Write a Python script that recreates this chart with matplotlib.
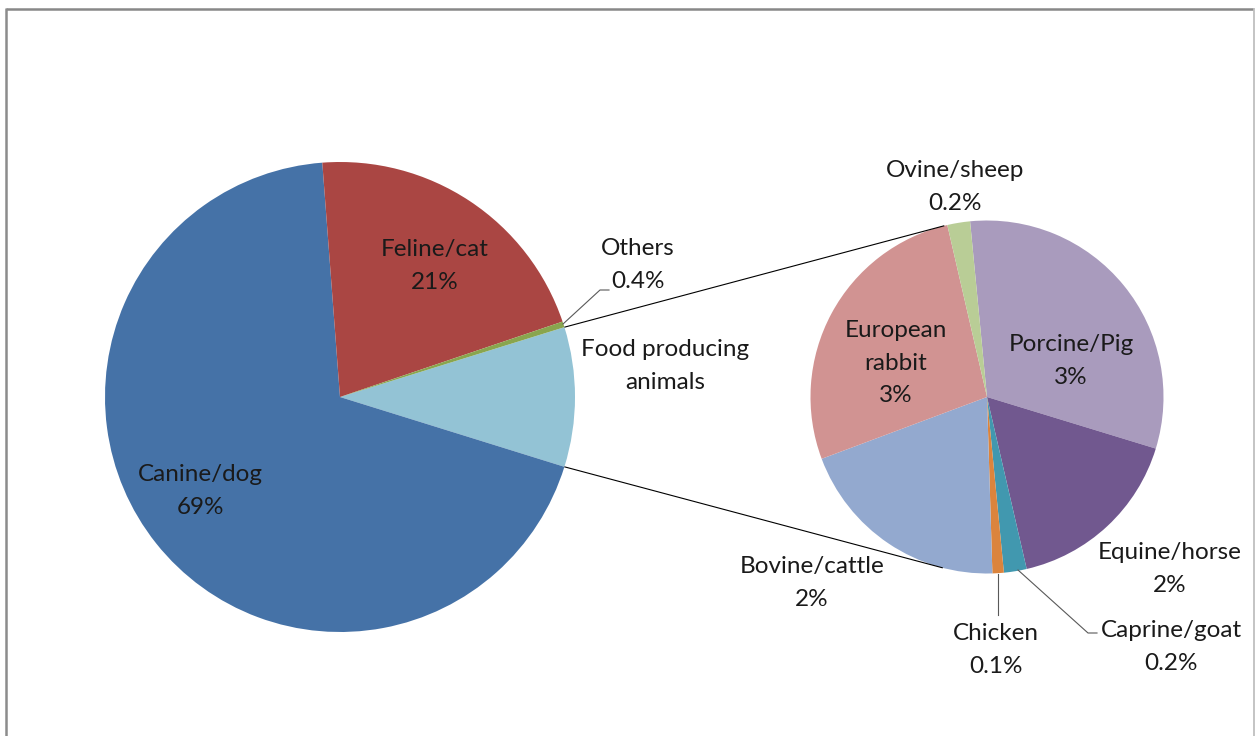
import numpy as np
import matplotlib
matplotlib.use("Agg")
import matplotlib.pyplot as plt

# Main pie: share of reports by animal group (%)
main_labels = ["Food producing\nanimals", "Canine/dog", "Feline/cat", "Others"]
main_values = [9.6, 69.0, 21.0, 0.4]
main_colors = ["#93C3D5", "#4572A7", "#AA4643", "#89A54E"]

# Breakdown of food producing animals (% of all reports)
sub_labels = ["Porcine/Pig", "Equine/horse", "Caprine/goat", "Chicken",
              "Bovine/cattle", "European\nrabbit", "Ovine/sheep"]
sub_values = [3.0, 1.6, 0.2, 0.1, 1.9, 2.6, 0.2]
sub_colors = ["#A99BBD", "#71588F", "#4198AF", "#DB843D",
              "#93A9CF", "#D19392", "#B9CD96"]

W, H = 1255, 736
fig = plt.figure(figsize=(W / 100, H / 100), dpi=100)
ax = fig.add_axes([0, 0, 1, 1])

FONT = "Lato"
FS = 17.5
TXT = "#1a1a1a"


def py(y):
    """Convert a top-down pixel row into the y-up data system."""
    return H - y


def pct(v):
    return f"{v:.0f}%" if v >= 1 else f"{v:.1f}%"


# ---- main pie ----
c1 = (340, py(397))
r1 = 235
food_span = main_values[0] / sum(main_values) * 360
ax.pie(main_values, colors=main_colors, center=c1, radius=r1,
       startangle=food_span / 2, counterclock=False,
       wedgeprops=dict(linewidth=0.6, edgecolor="none"))

# ---- secondary pie ----
c2 = (987, py(397))
r2 = 176.5
ax.pie(sub_values, colors=sub_colors, center=c2, radius=r2,
       startangle=95.5, counterclock=False,
       wedgeprops=dict(linewidth=0.6, edgecolor="none"))

# ---- connector lines between the two pies ----
def on_circle(c, r, deg):
    a = np.deg2rad(deg)
    return c[0] + r * np.cos(a), c[1] + r * np.sin(a)

for a_main, a_sub in [(food_span / 2, 104.0), (-food_span / 2, 255.5)]:
    x0, y0 = on_circle(c1, r1, a_main)
    x1, y1 = on_circle(c2, r2, a_sub)
    ax.plot([x0, x1], [y0, y1], color="#000000", lw=0.8, solid_capstyle="butt")

# ---- data labels ----
def label(text, x, y):
    ax.text(x, py(y), text, ha="center", va="center", fontsize=FS,
            family=FONT, color=TXT, linespacing=1.68)

main_pos = [(665, 366), (200, 491), (435, 266), (638, 265)]
for name, v, (x, y) in zip(main_labels, main_values, main_pos):
    if name.startswith("Food"):
        label(name, x, y)
    else:
        label(f"{name}\n{pct(v)}", x, y)

sub_pos = [(1071, 361), (1170, 569), (1171, 647), (996, 650),
           (812, 583), (896, 363), (955, 187)]
for name, v, (x, y) in zip(sub_labels, sub_values, sub_pos):
    label(f"{name}\n{pct(v)}", x, y)

# leader lines
LEAD = "#595959"
ax.plot([563, 600, 609], [py(324), py(290), py(290)], color=LEAD, lw=0.8)
ax.plot([1018, 1088, 1097], [py(570), py(633), py(633)], color=LEAD, lw=0.8)
ax.plot([998, 998], [py(574), py(615)], color=LEAD, lw=0.8)

# ---- chart area border ----
ax.plot([6, 1253], [py(8.5), py(8.5)], color="#888888", lw=1.8,
        solid_capstyle="butt")
ax.plot([6, 6], [py(8), py(740)], color="#8c8c8c", lw=1.8,
        solid_capstyle="butt")
ax.plot([1253.5, 1253.5], [py(8), py(740)], color="#b4b4b4", lw=1.1,
        solid_capstyle="butt")

ax.set_xlim(0, W)
ax.set_ylim(0, H)
ax.set_aspect("equal")
ax.axis("off")

fig.savefig("out.png", dpi=100, facecolor="white")
